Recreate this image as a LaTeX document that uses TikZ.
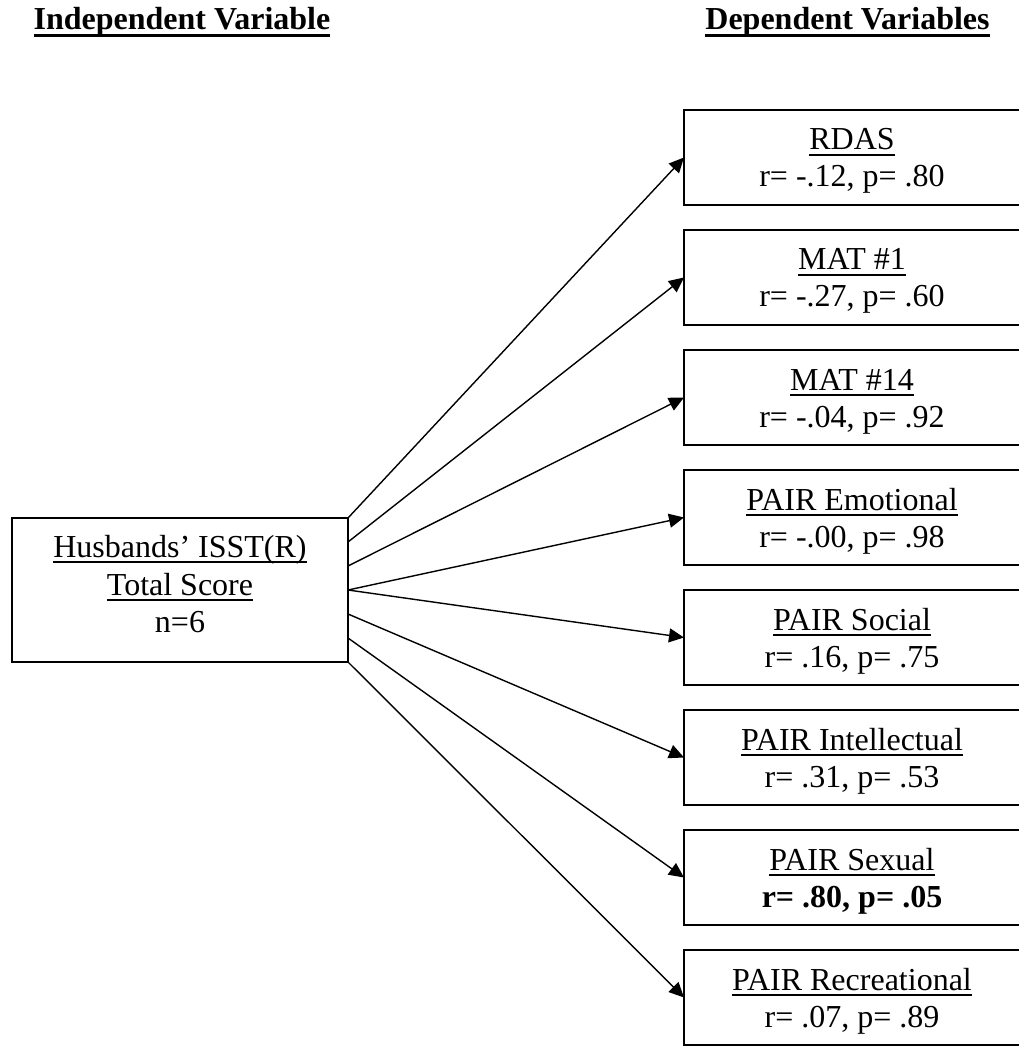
\documentclass[tikz,border=0pt]{standalone}
\usepackage{fontspec}
\setmainfont{Liberation Serif}
\usetikzlibrary{arrows.meta,calc}
\newcommand\myul[1]{\setbox0\hbox{#1}\rlap{\rule[-2.8pt]{\wd0}{0.75pt}}\box0}
\newcommand\mybul[1]{\setbox0\hbox{#1}\rlap{\rule[-3.4pt]{\wd0}{1.6pt}}\box0}
\begin{document}
\begin{tikzpicture}[x=0.5pt,y=-0.5pt,
  txt/.style={inner sep=0pt, outer sep=0pt, anchor=base, font=\fontsize{16}{18.5}\selectfont},
  ttl/.style={txt, font=\fontsize{16}{18.5}\selectfont\bfseries},
  ivbox/.style={draw, line width=0.85pt, inner sep=0pt, outer sep=0pt, minimum width=168pt, minimum height=72pt},
  dvbox/.style={draw, line width=0.85pt, inner sep=0pt, outer sep=0pt, minimum width=168pt, minimum height=47.5pt},
  arr/.style={line width=0.7pt, -{Triangle[length=7.5pt,width=7pt]}}]
\useasboundingbox (0,0) rectangle (1018,1047);
% titles
\node[ttl] (t1) at (182,30) {\mybul{Independent Variable}};
\node[ttl] (t2) at (847.5,30) {\mybul{Dependent Variables}};
% independent variable box
\node[ivbox] (L) at (180,590) {};
\node[txt] (La) at (180,557) {\myul{Husbands’ ISST(R)}};
\node[txt] (Lb) at (180,595) {\myul{Total Score}};
\node[txt] (Lc) at (180,632) {n=6};
% dependent variable boxes
\node[dvbox] (d1) at (852,157.5) {};
\node[txt] (d1a) at (852,150) {\myul{RDAS}};
\node[txt] (d1b) at (852,187) {r= -.12, p= .80};
\node[dvbox] (d2) at (852,277.5) {};
\node[txt] (d2a) at (852,270) {\myul{MAT \#1}};
\node[txt] (d2b) at (852,307) {r= -.27, p= .60};
\node[dvbox] (d3) at (852,397.5) {};
\node[txt] (d3a) at (852,390) {\myul{MAT \#14}};
\node[txt] (d3b) at (852,427) {r= -.04, p= .92};
\node[dvbox] (d4) at (852,517.5) {};
\node[txt] (d4a) at (852,510) {\myul{PAIR Emotional}};
\node[txt] (d4b) at (852,547) {r= -.00, p= .98};
\node[dvbox] (d5) at (852,637.5) {};
\node[txt] (d5a) at (852,630) {\myul{PAIR Social}};
\node[txt] (d5b) at (852,667) {r= .16, p= .75};
\node[dvbox] (d6) at (852,757.5) {};
\node[txt] (d6a) at (852,750) {\myul{PAIR Intellectual}};
\node[txt] (d6b) at (852,787) {r= .31, p= .53};
\node[dvbox] (d7) at (852,877.5) {};
\node[txt] (d7a) at (852,870) {\myul{PAIR Sexual}};
\node[txt] (d7b) at (852,907) {\bfseries r= .80, p= .05};
\node[dvbox] (d8) at (852,997.5) {};
\node[txt] (d8a) at (852,990) {\myul{PAIR Recreational}};
\node[txt] (d8b) at (852,1027) {r= .07, p= .89};
% start points on the right edge of the IV box
\coordinate (s2) at ($(L.north east)!0.1667!(L.south east)$);
\coordinate (s3) at ($(L.north east)!0.3333!(L.south east)$);
\coordinate (s6) at ($(L.north east)!0.6667!(L.south east)$);
\coordinate (s7) at ($(L.north east)!0.8333!(L.south east)$);
% connectors
\draw[arr] (L.north east) -- (d1.west);
\draw[arr] (s2) -- (d2.west);
\draw[arr] (s3) -- (d3.west);
\draw[arr] (L.east) -- (d4.west);
\draw[arr] (L.east) -- (d5.west);
\draw[arr] (s6) -- (d6.west);
\draw[arr] (s7) -- (d7.west);
\draw[arr] (L.south east) -- (d8.west);
\end{tikzpicture}
\end{document}
